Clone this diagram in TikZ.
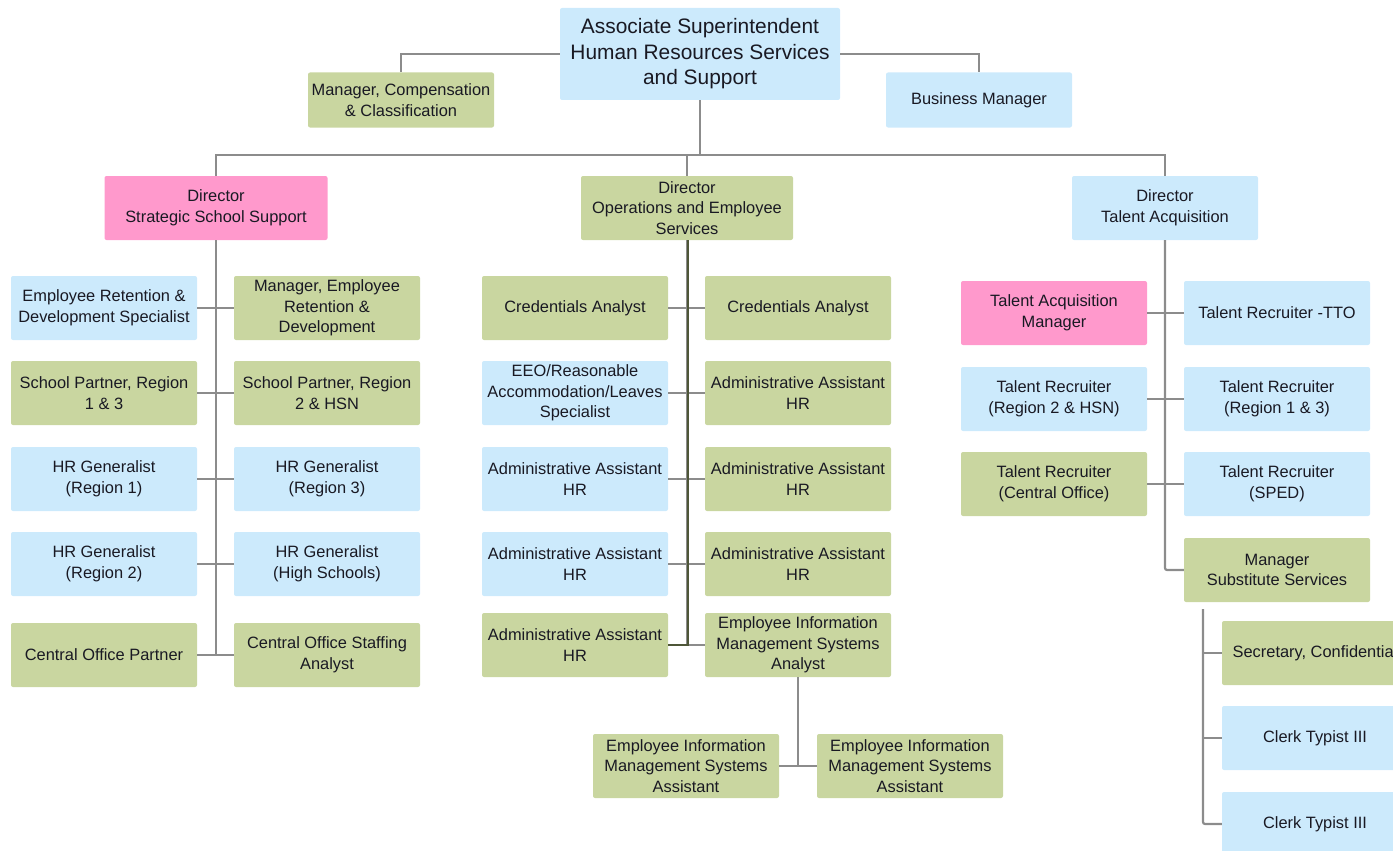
\documentclass[tikz,border=0pt]{standalone}
\usepackage{fontspec}
\setmainfont{Liberation Sans}
\begin{document}
\definecolor{cblue}{RGB}{204,234,252}
\definecolor{cgreen}{RGB}{201,214,160}
\definecolor{cpink}{RGB}{255,153,204}
\definecolor{cline}{RGB}{140,140,140}
\definecolor{cdark}{RGB}{78,86,56}
\definecolor{ctext}{RGB}{25,25,35}
\begin{tikzpicture}[x=1pt,y=-1pt,
  box/.style={rectangle, rounded corners=2pt, draw=none, inner sep=1pt,
    minimum width=186pt, minimum height=64pt, align=center, text=ctext,
    font=\fontsize{16.4}{20.5}\selectfont},
  bluebox/.style={box, fill=cblue},
  greenbox/.style={box, fill=cgreen},
  pinkbox/.style={box, fill=cpink},
  conn/.style={draw=cline, line width=2.2pt},
  darkconn/.style={draw=cdark, line width=2pt}]
\useasboundingbox (0,0) rectangle (1393,851);
\clip (0,0) rectangle (1393,851);

% top level
\node[bluebox, minimum width=280pt, minimum height=92pt,
  font=\fontsize{20.9}{25.5}\selectfont] (top) at (700,54)
  {Associate Superintendent\\Human Resources Services\\and Support};
\node[greenbox, minimum height=55pt] (mcc) at (401,100) {Manager, Compensation\\\& Classification};
\node[bluebox, minimum height=55pt] (bm) at (979,100) {Business Manager};

% directors
\node[pinkbox, minimum width=223pt] (dss) at (216,208) {Director\\Strategic School Support};
\node[greenbox, minimum width=212pt] (dops) at (687,208) {Director\\Operations and Employee\\Services};
\node[bluebox] (dta) at (1165,208) {Director\\Talent Acquisition};

% strategic school support
\node[bluebox] (s1l) at (104,308) {Employee Retention \&\\Development Specialist};
\node[greenbox] (s1r) at (327,308) {Manager, Employee\\Retention \&\\Development};
\node[greenbox] (s2l) at (104,393) {School Partner, Region\\1 \& 3};
\node[greenbox] (s2r) at (327,393) {School Partner, Region\\2 \& HSN};
\node[bluebox] (s3l) at (104,479) {HR Generalist\\(Region 1)};
\node[bluebox] (s3r) at (327,479) {HR Generalist\\(Region 3)};
\node[bluebox] (s4l) at (104,564) {HR Generalist\\(Region 2)};
\node[bluebox] (s4r) at (327,564) {HR Generalist\\(High Schools)};
\node[greenbox] (s5l) at (104,655) {Central Office Partner};
\node[greenbox] (s5r) at (327,655) {Central Office Staffing\\Analyst};

% operations and employee services
\node[greenbox] (o1l) at (575,308) {Credentials Analyst};
\node[greenbox] (o1r) at (798,308) {Credentials Analyst};
\node[bluebox] (o2l) at (575,393) {EEO/Reasonable\\Accommodation/Leaves\\Specialist};
\node[greenbox] (o2r) at (798,393) {Administrative Assistant\\HR};
\node[bluebox] (o3l) at (575,479) {Administrative Assistant\\HR};
\node[greenbox] (o3r) at (798,479) {Administrative Assistant\\HR};
\node[bluebox] (o4l) at (575,564) {Administrative Assistant\\HR};
\node[greenbox] (o4r) at (798,564) {Administrative Assistant\\HR};
\node[greenbox] (o5l) at (575,645) {Administrative Assistant\\HR};
\node[greenbox] (o5r) at (798,645) {Employee Information\\Management Systems\\Analyst};
\node[greenbox] (e1) at (686,766) {Employee Information\\Management Systems\\Assistant};
\node[greenbox] (e2) at (910,766) {Employee Information\\Management Systems\\Assistant};

% talent acquisition
\node[pinkbox] (t1l) at (1054,313) {Talent Acquisition\\Manager};
\node[bluebox] (t1r) at (1277,313) {Talent Recruiter -TTO};
\node[bluebox] (t2l) at (1054,399) {Talent Recruiter\\(Region 2 \& HSN)};
\node[bluebox] (t2r) at (1277,399) {Talent Recruiter\\(Region 1 \& 3)};
\node[greenbox] (t3l) at (1054,484) {Talent Recruiter\\(Central Office)};
\node[bluebox] (t3r) at (1277,484) {Talent Recruiter\\(SPED)};
\node[greenbox] (mss) at (1277,570) {Manager\\Substitute Services};
\node[greenbox] (u1) at (1315,653) {Secretary, Confidential};
\node[bluebox] (u2) at (1315,738) {Clerk Typist III};
\node[bluebox] (u3) at (1315,824) {Clerk Typist III};

% connectors: top level
\coordinate (bus) at (700,155);
\draw[conn] (top.west) -| (mcc.north);
\draw[conn] (top.east) -| (bm.north);
\draw[conn] (top.south) -- (bus);
\draw[conn] (dss.north) -- (dss.north |- bus) -- (dta.north |- bus) -- (dta.north);
\draw[conn] (dops.north) -- (dops.north |- bus);

% connectors: strategic school support
\draw[conn] (dss.south) -- (dss.south |- s5l.east);
\foreach \r in {1,...,5} { \draw[conn] (s\r l.east) -- (s\r r.west); }

% connectors: operations and employee services
\draw[conn] (dops.south) -- (dops.south |- o5l.east);
\foreach \r in {1,...,5} { \draw[conn] (o\r l.east) -- (o\r r.west); }
\draw[darkconn] ([xshift=1pt]dops.south) -- ([xshift=1pt]dops.south |- o5l.east) -- (o5l.east);
\coordinate (ebus) at (798,766);
\draw[conn] (o5r.south) -- (ebus);
\draw[conn] (e1.east) -- (e2.west);

% connectors: talent acquisition
\draw[conn, rounded corners=2pt] (dta.south) |- (mss.west);
\foreach \r in {1,2,3} { \draw[conn] (t\r l.east) -- (t\r r.west); }
\coordinate (sbus) at (1203,609);
\draw[conn, rounded corners=2pt] (sbus) |- (u3.west);
\draw[conn] (sbus |- u1.west) -- (u1.west);
\draw[conn] (sbus |- u2.west) -- (u2.west);
\end{tikzpicture}
\end{document}
